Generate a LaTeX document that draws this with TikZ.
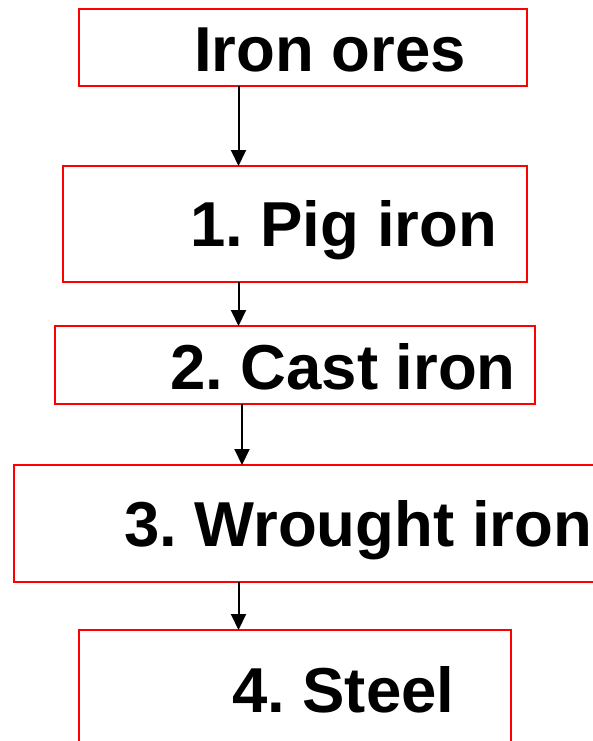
\documentclass[tikz,border=0pt]{standalone}
\usepackage{fontspec}
\setmainfont{Liberation Sans}
\usetikzlibrary{arrows.meta}
\frenchspacing
\begin{document}
\begin{tikzpicture}[x=1pt,y=-1pt,
  box/.style={draw=red,line width=1.8pt,rectangle,inner sep=0pt,outer sep=0pt},
  lbl/.style={anchor=base west,inner sep=0pt,outer sep=0pt,
    font=\fontsize{63.5}{75}\selectfont\bfseries},
  arr/.style={draw=black,line width=2pt,
    -{Triangle[width=15pt,length=16pt]},shorten >=0pt}]
\useasboundingbox (0,0) rectangle (592,741);
% process stages
\node[box,minimum width=448pt,minimum height=77pt] (b1) at (303,47.5) {};
\node[box,minimum width=464pt,minimum height=116pt] (b2) at (295,224) {};
\node[box,minimum width=480pt,minimum height=78pt] (b3) at (295,365) {};
\node[box,minimum width=596pt,minimum height=117pt] (b4) at (312,523.5) {};
\node[box,minimum width=432pt,minimum height=130pt] (b5) at (295,695) {};
% labels
\node[lbl] (t1) at (194,71.7) {Iron ores};
\node[lbl] (t2) at (190,246.7) {1. Pig iron};
\node[lbl] (t3) at (170,389) {2. Cast iron};
\node[lbl] (t4) at (124,546) {3. Wrought iron};
\node[lbl] (t5) at (232,712) {4. Steel};
% connector columns
\coordinate (c1) at (238.5,0);
\coordinate (c2) at (242,0);
\draw[arr] (b1.south -| c1) -- (b2.north -| c1);
\draw[arr] (b2.south -| c1) -- (b3.north -| c1);
\draw[arr] (b3.south -| c2) -- (b4.north -| c2);
\draw[arr] (b4.south -| c1) -- (b5.north -| c1);
\end{tikzpicture}
\end{document}
